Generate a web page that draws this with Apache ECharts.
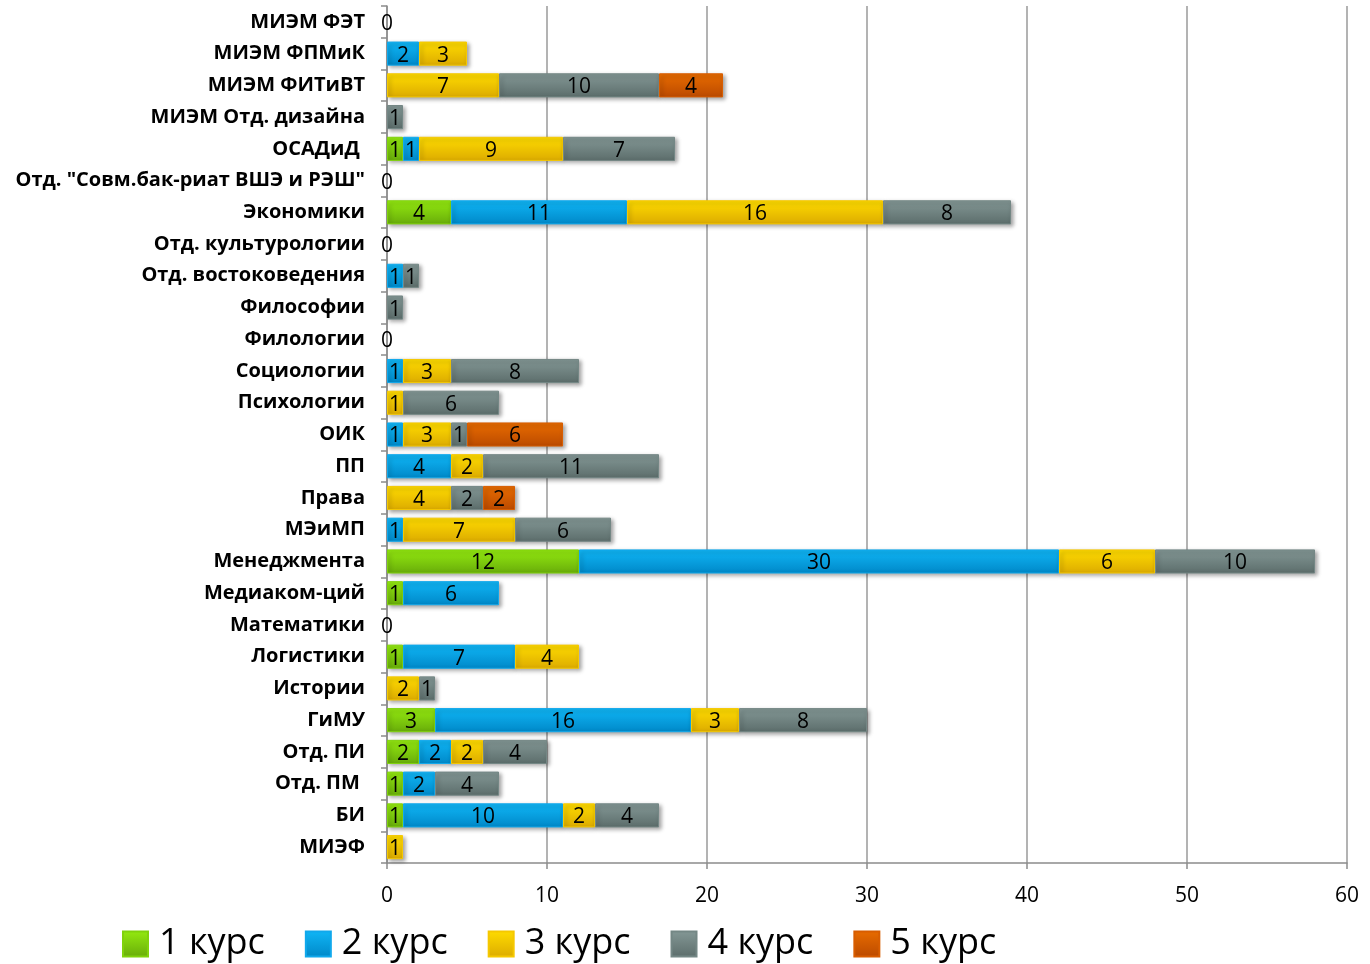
<!DOCTYPE html>
<html>
<head>
<meta charset="utf-8">
<script src="https://cdn.jsdelivr.net/npm/echarts@6/dist/echarts.min.js"></script>
<style>html,body{margin:0;padding:0;background:#fff;}#c{width:1370px;height:964px;}</style>
</head>
<body>
<div id="c"></div>
<script>
const categories = ['МИЭМ ФЭТ','МИЭМ ФПМиК','МИЭМ ФИТиВТ','МИЭМ Отд. дизайна','ОСАДиД ','Отд. "Совм.бак-риат ВШЭ и РЭШ"','Экономики','Отд. культурологии','Отд. востоковедения','Философии','Филологии','Социологии','Психологии','ОИК','ПП','Права','МЭиМП','Менеджмента','Медиаком-ций','Математики','Логистики','Истории','ГиМУ','Отд. ПИ','Отд. ПМ ','БИ','МИЭФ'];
const seriesNames = ['1 курс','2 курс','3 курс','4 курс','5 курс'];
const kurs1 = [0,0,0,0,1,0,4,0,0,0,0,0,0,0,0,0,0,12,1,0,1,0,3,2,1,1,0];
const kurs2 = [0,2,0,0,1,0,11,0,1,0,0,1,0,1,4,0,1,30,6,0,7,0,16,2,2,10,0];
const kurs3 = [0,3,7,0,9,0,16,0,0,0,0,3,1,3,2,4,7,6,0,0,4,2,3,2,0,2,1];
const kurs4 = [0,0,10,1,7,0,8,0,1,1,0,8,6,1,11,2,6,10,0,0,0,1,8,4,4,4,0];
const kurs5 = [0,0,4,0,0,0,0,0,0,0,0,0,0,6,0,2,0,0,0,0,0,0,0,0,0,0,0];
const xTicks = [0,10,20,30,40,50,60];

const colors = [
  ['#94ea10','#68ac0a','#80d20c'],
  ['#10b6f6','#0088c8','#10a8ec'],
  ['#ffdc00','#dcab00','#f5c800'],
  ['#849896','#5c6d6b','#748785'],
  ['#e86c00','#bb4a00','#d85d00']
];
function grad(c){
  return new echarts.graphic.LinearGradient(0,0,0,1,[{offset:0,color:c[0]},{offset:1,color:c[1]}]);
}
const allData = [kurs1,kurs2,kurs3,kurs4,kurs5];
const totals = categories.map((_,i)=>allData.reduce((s,a)=>s+a[i],0));
const FONT = '"Open Sans", "Liberation Sans", sans-serif';

const series = allData.map((arr,k)=>({
  name: seriesNames[k],
  type: 'bar',
  stack: 'total',
  barWidth: '76%',
  data: arr.map(v=>v===0?'-':v),
  itemStyle: {
    color: grad(colors[k]),
    borderColor: colors[k][2],
    borderWidth: 1,
    shadowBlur: 4,
    shadowColor: 'rgba(0,0,0,0.35)',
    shadowOffsetX: 2,
    shadowOffsetY: 2
  },
  label: {
    show: true,
    position: 'inside',
    color: '#000',
    fontSize: 21,
    fontFamily: FONT,
    offset: [0, 2]
  },
  emphasis: {disabled: true}
}));
series.push({
  name: 'zero',
  type: 'bar',
  stack: 'total',
  data: totals.map(t=>t===0?0:'-'),
  itemStyle: {color: 'transparent'},
  label: {show: true, position: 'inside', color: '#000', fontSize: 21, fontFamily: FONT, formatter: '0', offset: [0, 2]},
  emphasis: {disabled: true}
});

const chart = echarts.init(document.getElementById('c'));
chart.setOption({
  animation: false,
  backgroundColor: '#fff',
  grid: {left: 387, right: 23, top: 6, height: 857, containLabel: false},
  xAxis: {
    type: 'value',
    min: xTicks[0], max: xTicks[xTicks.length-1], interval: 10,
    axisLine: {show: true, lineStyle: {color: '#8c8c8c', width: 1.5}},
    axisTick: {show: true, length: 6, lineStyle: {color: '#8c8c8c', width: 1.5}},
    splitLine: {show: true, lineStyle: {color: '#9a9a9a', width: 1.5}},
    axisLabel: {color: '#000', fontSize: 21, fontFamily: FONT, margin: 23}
  },
  yAxis: {
    type: 'category',
    inverse: true,
    data: categories,
    axisLine: {show: true, lineStyle: {color: '#8c8c8c', width: 1.5}},
    axisTick: {show: true, length: 6, lineStyle: {color: '#8c8c8c', width: 1.5}},
    axisLabel: {color: '#000', fontSize: 20, fontWeight: 'bold', fontFamily: FONT, margin: 22, padding: [3,0,0,0]}
  },
  legend: {
    data: seriesNames,
    left: 117, top: 921,
    itemWidth: 25, itemHeight: 25, itemGap: 40,
    icon: 'rect',
    textStyle: {fontSize: 36, color: '#000', fontFamily: FONT, padding: [0,0,0,6]}
  },
  series: series
});
</script>
</body>
</html>
